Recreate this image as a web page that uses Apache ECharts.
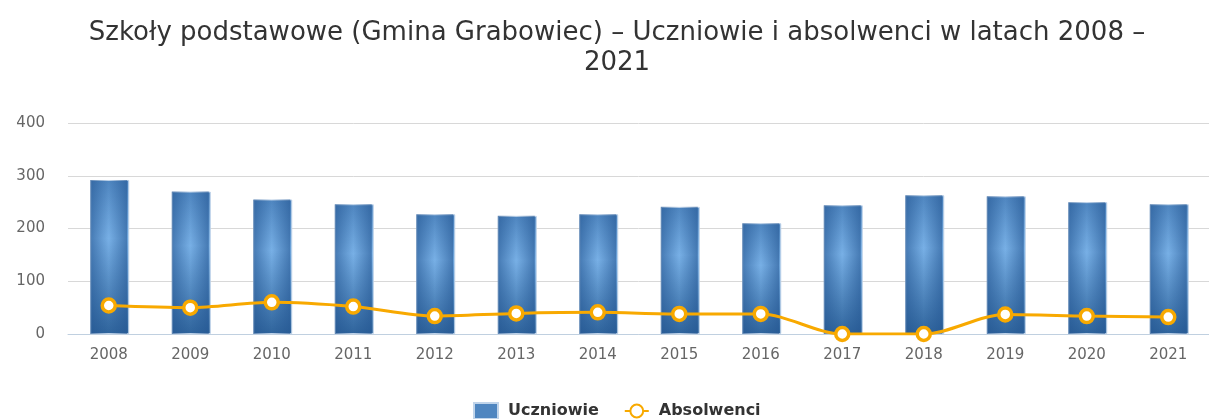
<!DOCTYPE html>
<html>
<head>
<meta charset="utf-8">
<script src="https://cdn.jsdelivr.net/npm/echarts@6/dist/echarts.min.js"></script>
<style>
  html, body { margin: 0; padding: 0; background: #fff; }
  #chart { width: 1209px; height: 419px; }
</style>
</head>
<body>
<div id="chart"></div>
<script>
// lata
const years = ['2008', '2009', '2010', '2011', '2012', '2013', '2014', '2015', '2016', '2017', '2018', '2019', '2020', '2021'];
// wartości
const uczniowie = [292, 270, 255, 246, 227, 224, 227, 241, 210, 244, 263, 261, 250, 246];
const absolwenci = [54, 50, 60, 52, 34, 39, 41, 38, 38, 0, 0, 37, 34, 32];
const yTicks = [0, 100, 200, 300, 400];

const chart = echarts.init(document.getElementById('chart'));

// pionowy gradient słupka
const barColor = {
	type: 'linear',
	x: 0, y: 0, x2: 0, y2: 1,
	colorStops: [
		{ offset: 0, color: '#4f86c0' },
		{ offset: 0.38, color: '#78b0e6' },
		{ offset: 1, color: '#2f649c' }
	]
};
// poziome przyciemnienie brzegów (nakładka)
const edgeShade = {
	type: 'linear',
	x: 0, y: 0, x2: 1, y2: 0,
	colorStops: [
		{ offset: 0, color: 'rgba(35,85,145,0.6)' },
		{ offset: 0.5, color: 'rgba(35,85,145,0)' },
		{ offset: 1, color: 'rgba(35,85,145,0.6)' }
	]
};

chart.setOption({
	animation: false,
	title: {
		text: 'Szkoły podstawowe (Gmina Grabowiec) – Uczniowie i absolwenci w latach 2008 –\n2021',
		left: 612,
		textAlign: 'center',
		top: 13,
		textStyle: {
			fontFamily: 'DejaVu Sans',
			fontSize: 26,
			fontWeight: 'normal',
			color: '#333',
			lineHeight: 30
		}
	},
	legend: {
		bottom: -1,
		left: 473,
		padding: 0,
		itemGap: 25,
		itemWidth: 24,
		itemHeight: 16,
		textStyle: { fontFamily: 'DejaVu Sans', fontSize: 16, fontWeight: 'bold', color: '#333', padding: [0, 0, 0, 5] },
		data: [
			{ name: 'Uczniowie', icon: 'rect', itemStyle: { color: '#4f86c0' } },
			{ name: 'Absolwenci' }
		]
	},
	grid: {
		left: 68,
		right: -11,
		top: 123,
		bottom: 85
	},
	xAxis: {
		type: 'category',
		data: years,
		axisLine: { lineStyle: { color: '#c0d0e0' } },
		axisTick: { length: 14, lineStyle: { color: '#c0d0e0' } },
		axisLabel: { color: '#666', fontFamily: 'DejaVu Sans', fontSize: 15, margin: 14 }
	},
	yAxis: {
		type: 'value',
		min: yTicks[0],
		max: yTicks[yTicks.length - 1],
		interval: 100,
		axisLabel: { color: '#666', fontFamily: 'DejaVu Sans', fontSize: 15, margin: 23 },
		splitLine: { lineStyle: { color: '#d8d8d8' } }
	},
	series: [
		{
			name: 'Uczniowie',
			type: 'bar',
			data: uczniowie,
			barWidth: 39,
			itemStyle: {
				color: barColor,
				borderColor: '#c0d4ea',
				borderWidth: 1
			}
		},
		{
			name: 'cień',
			type: 'bar',
			data: uczniowie,
			barWidth: 37,
			barGap: '-100%',
			silent: true,
			itemStyle: { color: edgeShade }
		},
		{
			name: 'Absolwenci',
			type: 'line',
			data: absolwenci,
			smooth: 0.3,
			symbol: 'circle',
			symbolSize: 13,
			lineStyle: { color: '#f8a900', width: 3 },
			itemStyle: { color: '#fff', borderColor: '#f8a900', borderWidth: 3.5 }
		}
	]
});
</script>
</body>
</html>
